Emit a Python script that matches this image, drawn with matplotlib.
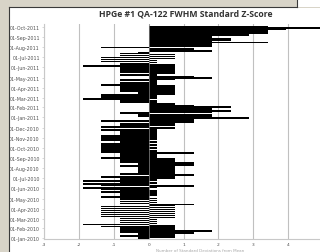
import numpy as np
import pandas as pd
import matplotlib
matplotlib.use('Agg')
import matplotlib.pyplot as plt
import matplotlib.dates as mdates
from matplotlib.patches import Rectangle
from matplotlib.lines import Line2D

# Z-score readings, oldest first (one reading every 3 days from 01-Jan-2010)
zscore = [
    -0.30, 0.76, -0.83, 0.76, -0.30, 1.29, -0.83, 1.82, -0.83, 0.76,
    -0.83, 0.76, -1.36, 0.76, -1.89, 0.23, -0.83, 0.23, -0.83, 0.23,
    -0.83, 0.76, -1.36, 0.76, -1.36, 0.76, -1.36, 0.76, -1.36, 0.76,
    -1.36, 0.76, -1.36, 0.76, 1.29, -0.83, 0.23, -0.83, 0.23, -0.83,
    0.23, -0.83, -1.36, -0.83, 0.23, -0.83, 0.23, -1.36, 0.23, -0.83,
    -1.36, -1.89, 0.23, 1.29, -1.36, -1.89, 0.23, -0.83, -1.89, 0.23,
    -0.83, 0.76, -1.36, 0.76, 1.29, -0.83, 0.76, -0.30, 0.76, -0.30,
    0.76, -0.30, 0.76, -0.83, 1.29, -0.30, 1.29, -0.83, 0.76, -0.83,
    0.76, -1.36, 0.23, -0.83, 0.23, -0.83, 1.29, -1.36, 0.23, -1.36,
    -1.36, 0.23, -1.36, -1.36, 0.23, -1.36, -0.83, 0.23, -0.83, -1.36,
    0.23, -1.36, 0.23, -1.36, 0.23, -0.83, 0.23, -0.83, 0.23, -1.36,
    0.23, 0.76, -1.36, -0.83, 0.76, -0.83, 0.76, 1.29, -1.36, 1.29,
    0.76, 2.88, 1.82, -0.30, 1.82, -0.30, -0.83, 1.82, 2.35, 1.82,
    1.82, 1.29, 2.35, 1.29, 0.76, 0.76, 0.23, -0.83, 0.23, -0.83,
    -1.89, 0.23, -1.36, 0.23, -1.36, 0.76, -0.30, 0.76, -0.83, 0.76,
    -0.83, 0.76, -0.83, 0.76, -1.36, 0.23, -0.83, 0.23, 0.23, -0.83,
    0.76, 1.82, 1.29, 0.23, -0.83, 0.23, 0.76, -0.83, 0.76, -0.83,
    0.76, -0.83, 0.76, -1.89, 0.76, -0.83, -0.83, 0.23, -1.36, 0.23,
    -1.36, 0.76, -1.36, 0.76, -0.83, 0.76, -0.83, -0.30, 1.82, 1.82,
    1.29, 1.29, -1.36, 1.82, 1.82, 1.82, 1.82, 3.41, 1.82, 2.35,
    2.35, 2.35, 1.82, 1.82, 1.82, 2.88, 2.88, 3.41, 3.41, 3.41,
    3.41, 3.94, 5.20, 3.41,
]
dates = pd.date_range('2010-01-01', periods=len(zscore), freq='3D')

title = 'HPGe #1 QA-122 FWHM Standard Z-Score'
x_ticks = [-3, -2, -1, 0, 1, 2, 3, 4]

W, H = 320, 253
fig = plt.figure(figsize=(W / 100, H / 100), dpi=100)
fig.patch.set_facecolor('#d8d4c8')

# white chart area (window frame around it)
fig.patches.append(Rectangle((9.5 / W, 0), 1, (H - 8.5) / H, transform=fig.transFigure,
                             facecolor='white', edgecolor='none', zorder=-5))
fig.patches.append(Rectangle((298 / W, (H - 8) / H), 1, 8 / H, transform=fig.transFigure,
                             facecolor='white', edgecolor='none', zorder=-5))
fig.lines.append(Line2D([9 / W, 9 / W], [0, (H - 8) / H], transform=fig.transFigure,
                        color='#3a3a3a', lw=0.8))
fig.lines.append(Line2D([9 / W, 297 / W], [(H - 8) / H, (H - 8) / H], transform=fig.transFigure,
                        color='#3a3a3a', lw=0.8))
fig.lines.append(Line2D([297 / W, 297 / W], [(H - 8) / H, 1], transform=fig.transFigure,
                        color='#3a3a3a', lw=0.8))

ax = fig.add_axes([44 / W, (H - 240) / H, 279 / W, 215 / H])
ax.set_facecolor('none')

ax.barh(mdates.date2num(dates), zscore, height=5.5, color='black', linewidth=0, zorder=3)
ax.axvline(0, color='#8a8a8a', linewidth=0.5, zorder=4)

ax.set_xlim(-3, 5)
ax.set_ylim(mdates.date2num(pd.Timestamp('2009-12-30')), mdates.date2num(pd.Timestamp('2011-10-10')))
ax.set_xticks(x_ticks)
ax.set_xticklabels([str(t) for t in x_ticks])
ax.xaxis.grid(True, color='#c0c0c0', linewidth=0.8, zorder=0)

ax.yaxis.set_major_locator(mdates.MonthLocator())
ax.yaxis.set_major_formatter(mdates.DateFormatter('%d-%b-%Y'))

for s in ['top', 'right']:
    ax.spines[s].set_visible(False)
for s in ['left', 'bottom']:
    ax.spines[s].set_color('#c8c8c8')
    ax.spines[s].set_linewidth(0.8)
ax.tick_params(axis='y', labelsize=3.4, labelcolor='#505050', length=1.5,
               color='#c8c8c8', pad=1.5, width=0.5)
ax.tick_params(axis='x', labelsize=3.2, labelcolor='#505050', length=0, pad=2.5)

fig.text(186 / W, (H - 14) / H, title, ha='center', va='center',
         fontsize=6.2, fontweight='bold', color='#333333', family='Open Sans')
fig.text(200 / W, (H - 251.3) / H, 'Number of Standard Deviations from Mean',
         ha='center', va='center', fontsize=3, color='#a8a8a8')

fig.savefig('out.png', dpi=100, facecolor=fig.get_facecolor())
